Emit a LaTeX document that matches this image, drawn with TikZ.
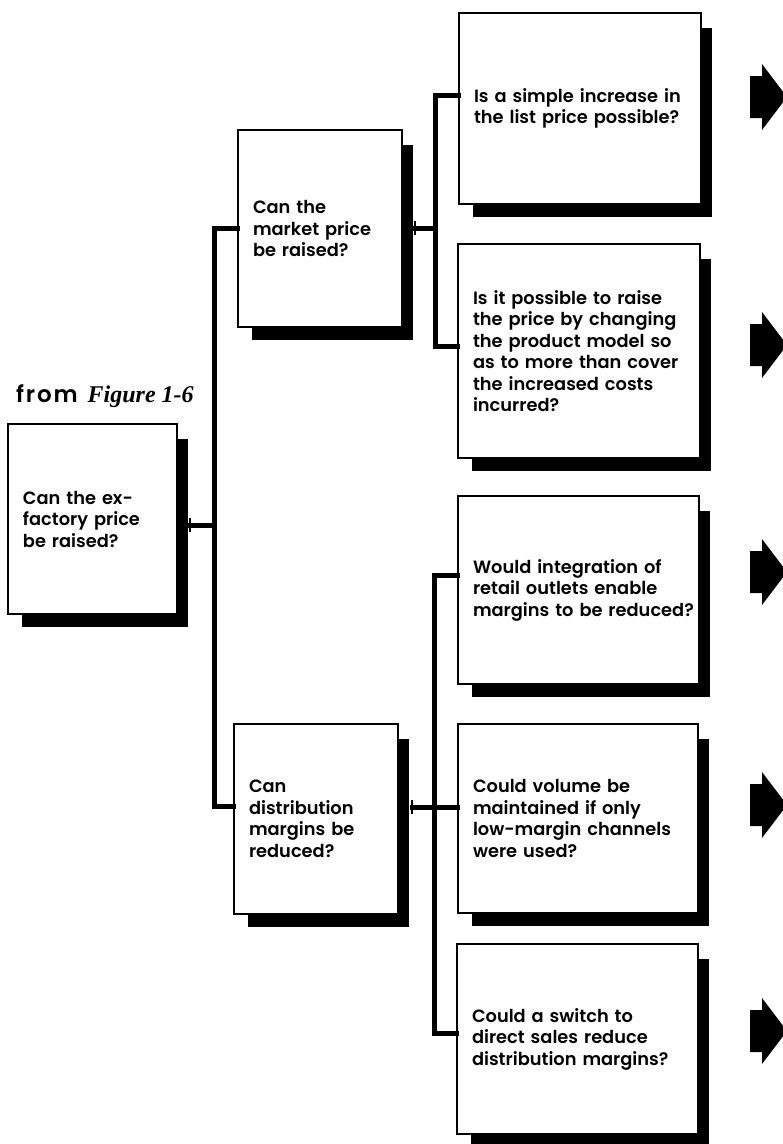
\documentclass[tikz,border=0pt]{standalone}
\usepackage{fontspec}
\setmainfont{Poppins SemiBold}
\newfontfamily\figfont{Liberation Serif}
\begin{document}
\begin{tikzpicture}[x=1pt,y=-1pt,
  qbox/.style={draw=black, line width=2pt, fill=white, anchor=north west,
    inner xsep=15pt, inner ysep=0pt, align=left,
    font=\fontsize{17.8}{21.5}\selectfont,
    execute at begin node={\hyphenpenalty=10000\exhyphenpenalty=10000}},
  conn/.style={line width=5pt, line cap=rect},
  tick/.style={line width=1.5pt},
  blockarrow/.style={fill=black}]
\useasboundingbox (0,0) rectangle (783,1144);

% question box with drop shadow: name, left, top, width, height, text
\newcommand\qnode[6]{%
  \fill (#2+15,#3+16) rectangle (#2+#4+12,#3+#5+14);
  \node[qbox, minimum width=#4pt, minimum height=#5pt, text width=#4pt-30pt]
    (#1) at (#2,#3) {#6};}
% solid block arrow pointing right, centred on height y
\newcommand\blockarr[1]{%
  \fill[blockarrow] (750,#1-21) -- (762,#1-21) -- (762,#1-33) -- (787,#1)
    -- (762,#1+33) -- (762,#1+21) -- (750,#1+21) -- cycle;}

\node[anchor=base west, inner sep=0pt, font=\fontsize{23}{27}\selectfont]
  (src) at (16,402) {{\addfontfeature{LetterSpace=8}from}\hspace{10pt}%
  {\figfont\fontsize{24}{28}\selectfont\bfseries\itshape Figure 1-6}};

\qnode{root}{7}{423}{169}{190}{Can the ex-\\factory price\\be raised?}
\qnode{mkt}{237}{129}{164}{197}{Can the\\market price\\be raised?}
\qnode{dst}{233}{723}{164}{190}{Can\\distribution\\margins be\\reduced?}
\qnode{a1}{458}{12}{242}{191}{Is a simple increase in\\the list price possible?}
\qnode{a2}{457}{243}{242}{214}{Is it possible to raise\\the price by changing\\the product model so\\as to more than cover\\the increased costs\\incurred?}
\qnode{b1}{457}{495}{241}{188}{Would integration of\\retail outlets enable\\margins~to~be~reduced?}
\qnode{b2}{457}{723}{240}{189}{Could volume be\\maintained if only\\low-margin channels\\were used?}
\qnode{b3}{456}{943}{241}{190}{Could a switch to\\direct sales reduce\\distribution margins?}

% spines of the tree
\coordinate (sp0) at (214,0);
\coordinate (sp1) at (435,0);
\coordinate (sp2) at (434,0);

% level 1: ex-factory price -> market price / distribution margins
\draw[conn] ([xshift=12pt]root.east |- 0,525) -- (sp0 |- 0,525);
\draw[tick] ([xshift=12pt]root.east |- 0,518) -- ([xshift=12pt]root.east |- 0,532);
\draw[conn] (sp0 |- mkt.west) -- (sp0 |- 0,806);
\draw[conn] (sp0 |- mkt.west) -- (mkt.west);
\draw[conn] (sp0 |- 0,806) -- (dst.west |- 0,806);

% level 2: market price
\draw[conn] ([xshift=12pt]mkt.east) -- (sp1 |- mkt.east);
\draw[tick] ([xshift=12pt]mkt.east |- 0,221) -- ([xshift=12pt]mkt.east |- 0,235);
\draw[conn] (sp1 |- 0,95) -- (sp1 |- 0,346);
\draw[conn] (sp1 |- 0,95) -- (a1.west |- 0,95);
\draw[conn] (sp1 |- 0,346) -- (a2.west |- 0,346);

% level 2: distribution margins
\draw[conn] ([xshift=13pt]dst.east |- 0,807) -- (b2.west |- 0,807);
\draw[tick] ([xshift=13pt]dst.east |- 0,800) -- ([xshift=13pt]dst.east |- 0,814);
\draw[conn] (sp2 |- 0,575) -- (sp2 |- 0,1033);
\draw[conn] (sp2 |- 0,575) -- (b1.west |- 0,575);
\draw[conn] (sp2 |- 0,1033) -- (b3.west |- 0,1033);

% onward arrows
\blockarr{97}
\blockarr{345}
\blockarr{572}
\blockarr{805}
\blockarr{1031}
\end{tikzpicture}
\end{document}
